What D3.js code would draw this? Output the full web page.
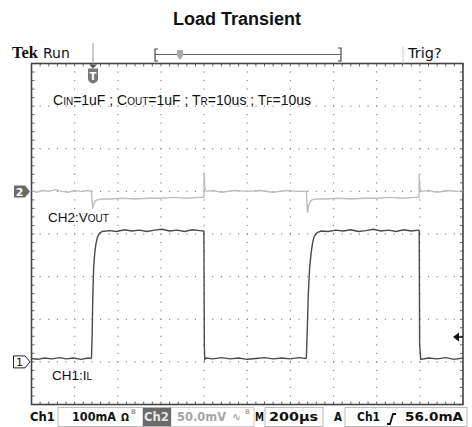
<!DOCTYPE html>
<html><head><meta charset="utf-8">
<script src="https://cdn.jsdelivr.net/npm/d3@7/dist/d3.min.js"></script>
<style>body{margin:0;background:#fff}svg{display:block}</style>
</head><body><svg id="c" width="472" height="427"></svg>
<script>
// ---------- data ----------
const title = "Load Transient";
const timeDomain = [0, 2000];          // µs (200 µs/div × 10 div)
const divDomain = [-4, 4];             // vertical divisions
const ch1Offset = -3, ch1PerDiv = 100; // CH1 ground (div), mA/div
const ch2Offset = 1,  ch2PerDiv = 50;  // CH2 ground (div), mV/div

// CH1: inductor current IL (mA) vs time (µs)
const ilTime  = [0, 30, 60, 95, 130, 160, 195, 230, 262, 276,
  278, 281, 284, 288, 293, 299, 306, 315, 328,
  360, 395, 430, 465, 500, 535, 570, 605, 640, 675, 710, 745, 780, 799,
  801, 803, 808, 840, 880, 920, 960, 1000, 1040, 1080, 1120, 1160, 1200, 1240, 1272,
  1274, 1278, 1283, 1289, 1296, 1303, 1311, 1323, 1343,
  1375, 1410, 1445, 1480, 1515, 1550, 1585, 1620, 1655, 1690, 1725, 1760, 1795,
  1797, 1799, 1804, 1840, 1880, 1920, 1960, 2000];
const ilValue = [8, 6, 9, 7, 10, 7, 9, 6, 9, 8,
  10, 60, 150, 220, 255, 278, 293, 302, 306,
  308, 306, 310, 307, 309, 306, 309, 311, 307, 309, 306, 310, 308, 307,
  40, 6, 9, 7, 10, 7, 9, 6, 8, 10, 7, 9, 7, 10, 8,
  10, 70, 160, 220, 255, 280, 295, 303, 307,
  306, 309, 307, 310, 306, 308, 311, 307, 309, 306, 310, 307, 309, 307,
  40, 6, 9, 7, 10, 6, 9, 8];

// CH2: output voltage deviation Vout (mV) vs time (µs)
const voutTime  = [0, 25, 50, 80, 110, 140, 170, 200, 230, 260, 278,
  281, 284, 287, 291, 296, 305, 320, 360, 420, 480, 540, 600, 660, 720, 780, 799,
  800, 802, 805, 812, 840, 880, 940, 1000, 1060, 1120, 1180, 1240, 1274,
  1277, 1280, 1283, 1287, 1292, 1300, 1318, 1360, 1420, 1480, 1540, 1600, 1660, 1720, 1780, 1796,
  1797, 1799, 1802, 1809, 1840, 1880, 1930, 1970, 2000];
const voutValue = [1, -1, 1, 0, 2, 0, -1, 1, 0, 1, 0,
  -12, -20, -17, -13, -11, -10, -9, -9, -8, -9, -8, -8, -7, -8, -7, -7,
  22, 8, 2, 0, 1, -1, 1, 0, 1, -1, 1, 0, 0,
  -14, -25, -20, -15, -12, -10, -9, -9, -8, -9, -8, -8, -7, -8, -7, -7,
  20, 8, 2, 0, 1, -1, 1, 0, 1];

// annotation / labels
const noteParts = [["C",0],["IN",1],["=1uF ; C",0],["OUT",1],["=1uF ; T",0],["R",1],["=10us ; T",0],["F",1],["=10us",0]];
const ch2Label = [["CH2:V",0],["OUT",1]];
const ch1Label = [["CH1:I",0],["L",1]];

// ---------- scales ----------
const svg = d3.select("#c");
const L = 31.5, R = 463, T = 63.5, B = 404.5;
const x = d3.scaleLinear().domain(timeDomain).range([L, R]);
const y = d3.scaleLinear().domain(divDomain).range([B, T]);
const ilDiv = v => ch1Offset + v / ch1PerDiv;
const voDiv = v => ch2Offset + v / ch2PerDiv;

// title
svg.append("text").attr("x", 237).attr("y", 25).attr("text-anchor", "middle")
  .attr("font-family", "Liberation Sans, Arial, sans-serif").attr("font-weight", "bold")
  .attr("font-size", 18).attr("fill", "#111").text(title);

// ---------- graticule ----------
const g = svg.append("g");
const xMaj = d3.range(0, 11).map(i => timeDomain[0] + i * 200);
const yMaj = d3.range(-4, 5);
const xMin = d3.range(0, 51).map(i => i * 40);
const yMin = d3.range(0, 41).map(i => -4 + i * 0.2);
xMaj.slice(1, -1).forEach(t => {
  g.selectAll(null).data(yMin.slice(1, -1)).enter().append("rect")
    .attr("x", x(t) - 0.6).attr("y", d => y(d) - 0.6).attr("width", 1.2).attr("height", 1.2).attr("fill", "#8a8a8a");
});
yMaj.slice(1, -1).forEach(v => {
  g.selectAll(null).data(xMin.slice(1, -1)).enter().append("rect")
    .attr("x", d => x(d) - 0.6).attr("y", y(v) - 0.6).attr("width", 1.2).attr("height", 1.2).attr("fill", "#8a8a8a");
});
g.selectAll(null).data(xMin).enter().append("line")
  .attr("x1", d => x(d)).attr("x2", d => x(d)).attr("y1", T).attr("y2", T + 3).attr("stroke", "#666");
g.selectAll(null).data(xMin).enter().append("line")
  .attr("x1", d => x(d)).attr("x2", d => x(d)).attr("y1", B).attr("y2", B - 3).attr("stroke", "#666");
g.selectAll(null).data(yMin).enter().append("line")
  .attr("y1", d => y(d)).attr("y2", d => y(d)).attr("x1", L).attr("x2", L + 3).attr("stroke", "#666");
g.selectAll(null).data(yMin).enter().append("line")
  .attr("y1", d => y(d)).attr("y2", d => y(d)).attr("x1", R).attr("x2", R - 3).attr("stroke", "#666");
g.append("rect").attr("x", L).attr("y", T).attr("width", R - L).attr("height", B - T)
  .attr("fill", "none").attr("stroke", "#444").attr("stroke-width", 1.6);

// ---------- traces ----------
svg.append("clipPath").attr("id", "clip").append("rect")
  .attr("x", L).attr("y", T).attr("width", R - L).attr("height", B - T);
const line = d3.line().x(d => x(d[0])).y(d => y(d[1]));
svg.append("path").attr("clip-path", "url(#clip)")
  .attr("d", line(voutTime.map((t, i) => [t, voDiv(voutValue[i])])))
  .attr("fill", "none").attr("stroke", "#bdbdbd").attr("stroke-width", 1.4);
svg.append("path").attr("clip-path", "url(#clip)")
  .attr("d", line(ilTime.map((t, i) => [t, ilDiv(ilValue[i])])))
  .attr("fill", "none").attr("stroke", "#4a4a4a").attr("stroke-width", 1.4);

// ---------- text helpers ----------
function mixed(parts, px, py, big, small) {
  const t = svg.append("text").attr("x", px).attr("y", py)
    .attr("font-family", "Liberation Sans, Arial, sans-serif").attr("fill", "#111");
  parts.forEach(p => t.append("tspan").attr("font-size", p[1] ? small : big).text(p[0]));
  return t;
}
mixed(noteParts, 53, 105, 14, 10);
mixed(ch2Label, 48, 222, 13.5, 10);
mixed(ch1Label, 52, 380, 13.5, 10);

// channel markers
const y2 = y(ch2Offset), y1 = y(ch1Offset);
svg.append("path").attr("d", `M14,${y2-6}H25L30,${y2}L25,${y2+6}H14Z`).attr("fill", "#6a6a6a");
svg.append("text").attr("x", 19.5).attr("y", y2 + 4.5).attr("text-anchor", "middle").attr("fill", "#fff")
  .attr("font-family", "DejaVu Sans, sans-serif").attr("font-weight", "bold").attr("font-size", 11).text("2");
svg.append("path").attr("d", `M13.5,${y1-6}H25L30,${y1}L25,${y1+6}H13.5Z`).attr("fill", "#fff").attr("stroke", "#222").attr("stroke-width", 1);
svg.append("text").attr("x", 19.5).attr("y", y1 + 4.5).attr("text-anchor", "middle").attr("fill", "#111")
  .attr("font-family", "DejaVu Sans, sans-serif").attr("font-size", 11).text("1");
const trigY = 337;
svg.append("path").attr("d", `M453,${trigY}L459,${trigY-4.5}V${trigY+4.5}Z`).attr("fill", "#111");
svg.append("line").attr("x1", 458).attr("x2", 463).attr("y1", trigY).attr("y2", trigY).attr("stroke", "#111").attr("stroke-width", 1.5);

// trigger position marker (top)
const trigX = x(285);
svg.append("line").attr("x1", trigX).attr("x2", trigX).attr("y1", 43).attr("y2", T).attr("stroke", "#aaa").attr("stroke-width", 1.2);
svg.append("path").attr("d", `M${trigX-4},${T+1}H${trigX+4}L${trigX},${T+5}Z`).attr("fill", "#555");
svg.append("path").attr("d", `M${trigX-5},${T+5}H${trigX+5}V${T+15}Q${trigX+5},${T+19} ${trigX},${T+20}Q${trigX-5},${T+19} ${trigX-5},${T+15}Z`).attr("fill", "#777");
svg.append("text").attr("x", trigX).attr("y", T + 16).attr("text-anchor", "middle").attr("fill", "#fff")
  .attr("font-family", "DejaVu Sans, sans-serif").attr("font-weight", "bold").attr("font-size", 10).text("T");

// ---------- top bar ----------
svg.append("text").attr("x", 12).attr("y", 58).attr("font-family", "Liberation Serif, serif").attr("font-weight", "bold")
  .attr("font-size", 16.5).attr("fill", "#111").text("Tek");
svg.append("text").attr("x", 43).attr("y", 58).attr("font-family", "DejaVu Sans, sans-serif")
  .attr("font-size", 14).attr("fill", "#111").text("Run");
svg.append("path").attr("d", "M158,49H155V61H158").attr("fill", "none").attr("stroke", "#444").attr("stroke-width", 1.2);
svg.append("path").attr("d", "M338,48H341V61H338").attr("fill", "none").attr("stroke", "#444").attr("stroke-width", 1.2);
svg.append("line").attr("x1", 155).attr("x2", 341).attr("y1", 54.5).attr("y2", 54.5).attr("stroke", "#666").attr("stroke-width", 1);
svg.append("path").attr("d", "M177,50H183V56L180,60L177,56Z").attr("fill", "#aaa");
svg.append("line").attr("x1", 403).attr("x2", 403).attr("y1", 47).attr("y2", T).attr("stroke", "#ccc");
svg.append("text").attr("x", 408).attr("y", 58).attr("font-family", "DejaVu Sans, sans-serif")
  .attr("font-size", 14.5).attr("fill", "#111").text("Trig?");

// ---------- bottom bar ----------
const fy = 421;
const bt = (txt, px, col, w, opts = {}) => {
  const t = svg.append("text").attr("x", px).attr("y", opts.y || fy)
    .attr("font-family", "DejaVu Sans, sans-serif").attr("font-weight", "bold")
    .attr("font-size", opts.size || 12.5).attr("fill", col).text(txt);
  if (w) t.attr("textLength", w).attr("lengthAdjust", "spacingAndGlyphs");
  return t;
};
const box = (x0, x1, col) => svg.append("rect").attr("x", x0).attr("y", 407.5).attr("width", x1 - x0).attr("height", 19)
  .attr("fill", "none").attr("stroke", col).attr("stroke-width", 1);
box(58, 143, "#bbb");
box(171, 254, "#ccc");
box(265, 323, "#bbb");
box(345, 467, "#bbb");
svg.append("rect").attr("x", 143).attr("y", 407.5).attr("width", 28).attr("height", 19).attr("fill", "#6a6a6a");
bt("Ch1", 30, "#111", 25);
bt("100mA", 72, "#111", 44, {size: 11.5});
bt("\u03A9", 121, "#111", 8, {size: 10.5});
bt("B", 131, "#999", 0, {size: 6.5, y: 414});
bt("Ch2", 144, "#e6e6e6", 25);
bt("50.0mV", 177, "#a5a5a5", 49, {size: 12});
bt("\u223F", 232, "#aaa", 9, {size: 12});
bt("B", 245, "#aaa", 0, {size: 6.5, y: 414});
bt("M", 255, "#111", 9);
bt("200\u00B5s", 269, "#111", 49, {size: 13});
bt("A", 334, "#111", 8);
bt("Ch1", 357, "#111", 23);
svg.append("path").attr("d", "M387,424L390,424L393,414L396,414").attr("fill", "none").attr("stroke", "#111").attr("stroke-width", 1.8);
bt("56.0mA", 405, "#111", 58, {size: 13});
</script></body></html>
